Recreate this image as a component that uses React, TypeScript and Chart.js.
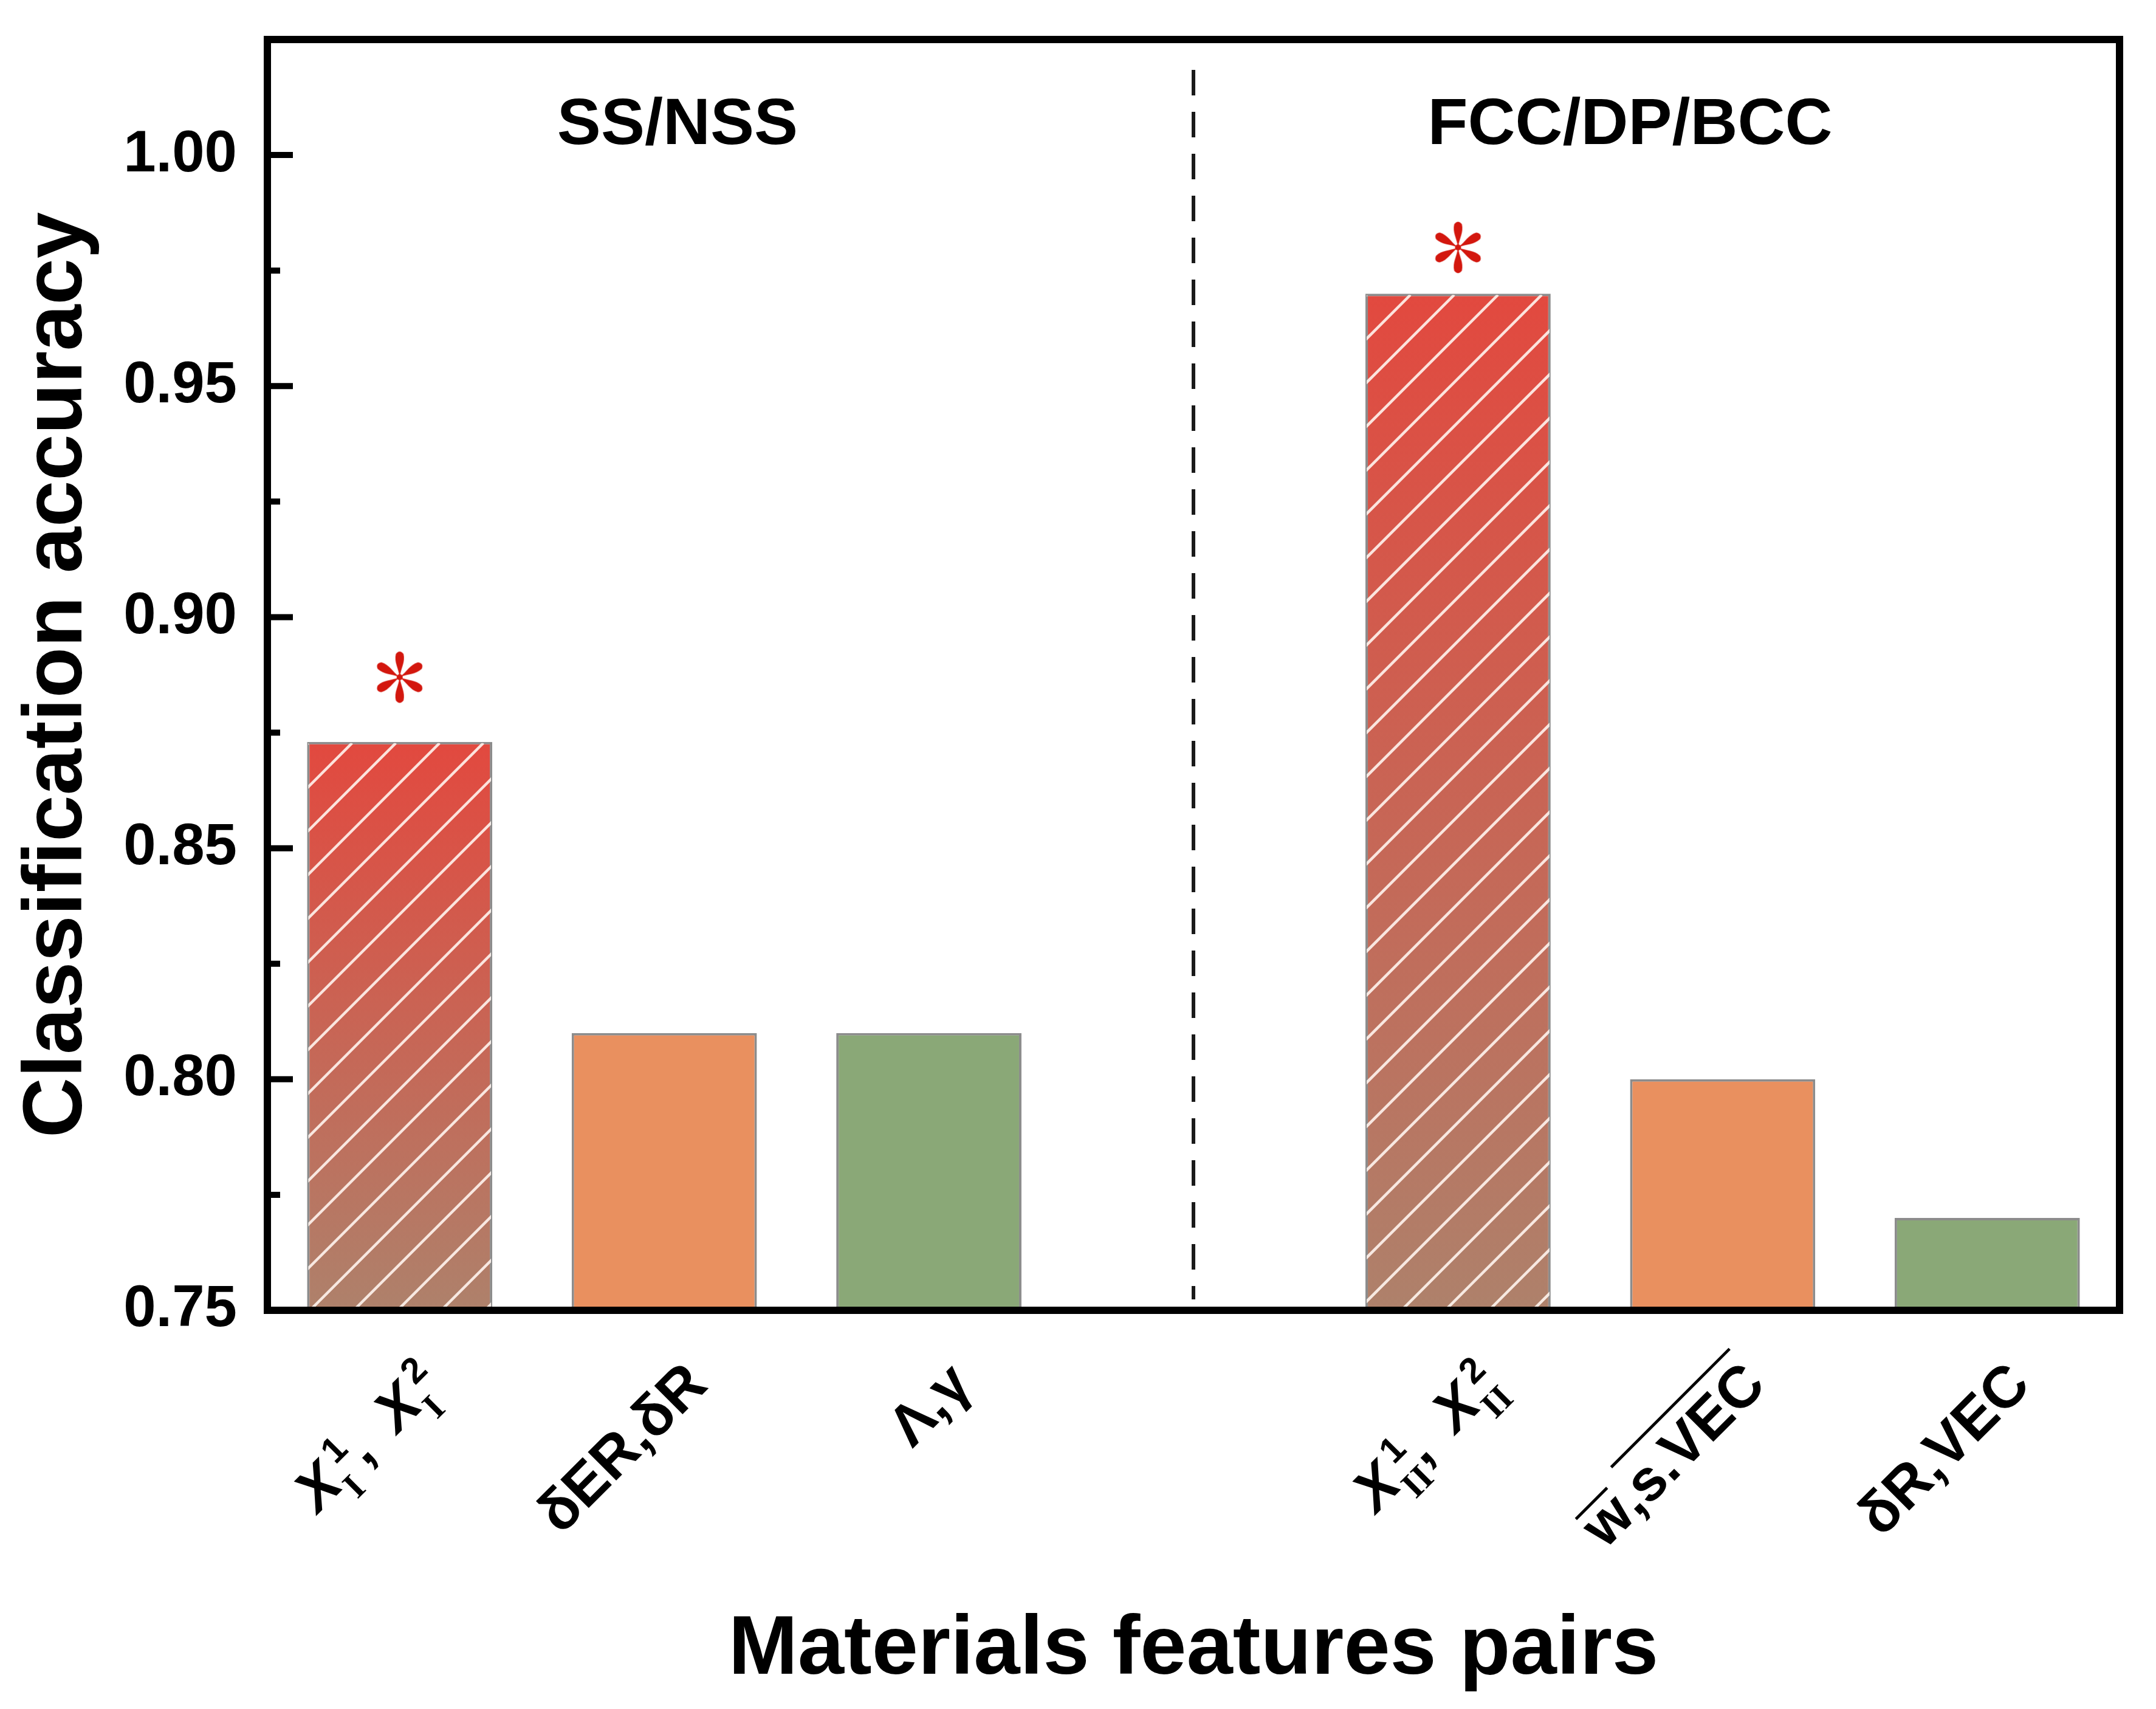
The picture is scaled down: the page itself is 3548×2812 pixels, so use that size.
import React, { useEffect, useRef } from 'react';
import { Chart, registerables } from 'chart.js';

Chart.register(...registerables);

// ---------- data ----------
const categories = ['X_I', 'dER_dR', 'L_g', '', 'X_II', 'w_sVEC', 'dR_VEC'];
const accuracy: (number | null)[] = [0.873, 0.81, 0.81, null, 0.97, 0.8, 0.77];
const starValues: (number | null)[] = [0.887, null, null, null, 0.98, null, null];
const barKinds = ['best', 'orange', 'green', 'none', 'best', 'orange', 'green'];
const yTickValues = [0.75, 0.8, 0.85, 0.9, 0.95, 1.0];
const yMinorValues = [0.775, 0.825, 0.875, 0.925, 0.975];
const groupLabels = ['SS/NSS', 'FCC/DP/BCC'];
const yTitle = 'Classification accuracy';
const xTitle = 'Materials features pairs';

type Tok = { t?: string; i?: boolean; o?: boolean; sup?: string; sub?: string };
const tickLabels: Tok[][] = [
  [{ t: 'X', i: true }, { sup: '1', sub: 'I' }, { t: ',\u2002' }, { t: 'X', i: true }, { sup: '2', sub: 'I' }],
  [{ t: 'δER,δR' }],
  [{ t: 'Λ,γ' }],
  [],
  [{ t: 'X', i: true }, { sup: '1', sub: 'II' }, { t: ',\u2002' }, { t: 'X', i: true }, { sup: '2', sub: 'II' }],
  [{ t: 'w', o: true }, { t: ',' }, { t: 's.VEC', o: true }],
  [{ t: 'δR,VEC' }],
];

// ---------- styles ----------
const SANS = '"Liberation Sans", Arial, Helvetica, sans-serif';
const SERIF = '"Liberation Serif", "Times New Roman", serif';
const W = 3548;
const H = 2812;

function makeStar(color: string) {
  const c = document.createElement('canvas');
  c.width = 100;
  c.height = 100;
  const g = c.getContext('2d')!;
  g.translate(50, 50);
  g.fillStyle = color;
  const R = 45;
  for (let k = 0; k < 6; k++) {
    const a = -Math.PI / 2 + (k * Math.PI) / 3;
    g.save();
    g.rotate(a);
    g.beginPath();
    g.moveTo(0, 0);
    g.bezierCurveTo(R * 0.35, -R * 0.05, R * 0.55, -R * 0.21, R * 0.85, -R * 0.14);
    g.quadraticCurveTo(R * 1.03, 0, R * 0.85, R * 0.14);
    g.bezierCurveTo(R * 0.55, R * 0.21, R * 0.35, R * 0.05, 0, 0);
    g.fill();
    g.restore();
  }
  g.beginPath();
  g.arc(0, 0, 5, 0, Math.PI * 2);
  g.fill();
  return c;
}

function drawRichLabel(ctx: CanvasRenderingContext2D, tokens: Tok[], ax: number, ay: number, size: number) {
  const items: { t: string; f: string; x: number; y: number; w: number; o: number }[] = [];
  let x = 0;
  const small = size * 0.62;
  const fBase = `bold ${size}px ${SANS}`;
  const fIt = `italic bold ${size}px ${SANS}`;
  const fSup = `bold ${small}px ${SANS}`;
  const fSub = `bold ${small}px ${SERIF}`;
  for (const tk of tokens) {
    if (tk.sup != null) {
      ctx.font = fSub;
      const sw = ctx.measureText(tk.sub || '').width;
      ctx.font = fSup;
      const pw = ctx.measureText(tk.sup).width;
      const sx = x - 0.01 * size;
      const px = x + 0.14 * size;
      items.push({ t: tk.sub || '', f: fSub, x: sx, y: 0.3 * size, w: sw, o: 0 });
      items.push({ t: tk.sup, f: fSup, x: px, y: -0.38 * size, w: pw, o: 0 });
      x = Math.max(sx + sw, px + pw);
    } else {
      const f = tk.i ? fIt : fBase;
      ctx.font = f;
      const t = tk.t || '';
      const w = ctx.measureText(t).width;
      const o = tk.o ? (/[A-Z]/.test(t) ? 0.93 : 0.73) : 0;
      items.push({ t, f, x, y: 0, w, o });
      x += w;
    }
  }
  const total = x;
  ctx.save();
  ctx.translate(ax, ay);
  ctx.rotate(-Math.PI / 4);
  ctx.translate(-total, 0.3465 * size);
  ctx.fillStyle = '#000';
  ctx.strokeStyle = '#000';
  ctx.textBaseline = 'alphabetic';
  ctx.textAlign = 'left';
  for (const it of items) {
    ctx.font = it.f;
    ctx.fillText(it.t, it.x, it.y);
    if (it.o) {
      ctx.lineWidth = 0.05 * size;
      ctx.beginPath();
      ctx.moveTo(it.x + 0.02 * size, -it.o * size);
      ctx.lineTo(it.x + it.w, -it.o * size);
      ctx.stroke();
    }
  }
  ctx.restore();
}

const decor = {
  id: 'decor',
  afterDatasetsDraw(chart: any) {
    const ctx: CanvasRenderingContext2D = chart.ctx;
    const area = chart.chartArea;
    const meta = chart.getDatasetMeta(0);
    meta.data.forEach((el: any, i: number) => {
      if (barKinds[i] !== 'best' || accuracy[i] == null) return;
      const { x, y, base, width } = el.getProps(['x', 'y', 'base', 'width'], true);
      const l = x - width / 2 + 2;
      const r = x + width / 2 - 2;
      const t = y + 2;
      const b = Math.min(base, area.bottom);
      ctx.save();
      ctx.beginPath();
      ctx.rect(l, t, r - l, b - t);
      ctx.clip();
      ctx.strokeStyle = 'rgba(255,244,238,0.9)';
      ctx.lineWidth = 4.5;
      const step = 72;
      const hgt = b - t;
      ctx.beginPath();
      for (let k = l - hgt; k < r + step; k += step) {
        ctx.moveTo(k, b);
        ctx.lineTo(k + hgt, t);
      }
      ctx.stroke();
      ctx.restore();
    });
  },
  afterDraw(chart: any) {
    const ctx: CanvasRenderingContext2D = chart.ctx;
    const area = chart.chartArea;
    const xs = chart.scales.x;
    const ys = chart.scales.y;
    ctx.save();

    // dashed separator
    const dx = xs.getPixelForValue(3);
    ctx.strokeStyle = '#1a1a1a';
    ctx.lineWidth = 6;
    ctx.setLineDash([42, 27]);
    ctx.beginPath();
    ctx.moveTo(dx, area.top + 50);
    ctx.lineTo(dx, area.bottom - 18);
    ctx.stroke();
    ctx.setLineDash([]);

    // group labels
    ctx.fillStyle = '#000';
    ctx.font = `bold 108px ${SANS}`;
    ctx.textAlign = 'center';
    ctx.textBaseline = 'middle';
    ctx.fillText(groupLabels[0], xs.getPixelForValue(1.05), area.top + 142);
    ctx.fillText(groupLabels[1], xs.getPixelForValue(4.65), area.top + 142);

    // frame
    ctx.strokeStyle = '#000';
    ctx.lineWidth = 12;
    ctx.lineJoin = 'miter';
    ctx.strokeRect(area.left, area.top, area.right - area.left, area.bottom - area.top);

    // inward ticks on left axis
    ctx.lineWidth = 10;
    ctx.lineCap = 'butt';
    ctx.beginPath();
    for (const v of yTickValues) {
      const py = ys.getPixelForValue(v);
      ctx.moveTo(area.left, py);
      ctx.lineTo(area.left + 42, py);
    }
    for (const v of yMinorValues) {
      const py = ys.getPixelForValue(v);
      ctx.moveTo(area.left, py);
      ctx.lineTo(area.left + 21, py);
    }
    ctx.stroke();

    // category labels
    tickLabels.forEach((toks, i) => {
      if (!toks.length) return;
      const bx = xs.getPixelForValue(i);
      drawRichLabel(ctx, toks, bx + 51, area.bottom + 103, 96);
    });
    ctx.restore();
  },
};

export default function App() {
  const ref = useRef<HTMLCanvasElement>(null);
  useEffect(() => {
    document.body.style.margin = '0';
    const canvas = ref.current!;
    const star = makeStar('#d3170e');
    const fillFor = (c: any) => {
      const kind = barKinds[c.dataIndex];
      if (kind === 'best') {
        const ch = c.chart;
        const area = ch.chartArea;
        const v = accuracy[c.dataIndex];
        if (!area || v == null || !ch.scales.y) return '#e2493f';
        const yTop = ch.scales.y.getPixelForValue(v);
        const g = ch.ctx.createLinearGradient(0, yTop, 0, area.bottom);
        g.addColorStop(0, '#e2493f');
        g.addColorStop(1, '#ae816b');
        return g;
      }
      return kind === 'orange' ? '#e9905f' : '#8aa877';
    };
    const chart = new Chart(canvas, {
      type: 'bar',
      data: {
        labels: categories,
        datasets: [
          {
            type: 'bar',
            data: accuracy as any,
            base: 0.75,
            backgroundColor: fillFor as any,
            borderColor: '#8c8c8c',
            borderWidth: 4,
            borderSkipped: false,
            barPercentage: 0.7,
            categoryPercentage: 1,
            order: 2,
          } as any,
          {
            type: 'line',
            data: starValues as any,
            showLine: false,
            pointStyle: star as any,
            pointRadius: 40,
            order: 1,
          } as any,
        ],
      },
      options: {
        responsive: false,
        animation: false,
        devicePixelRatio: 1,
        events: [],
        layout: { padding: { top: 65, right: 60, bottom: 0, left: 0 } },
        plugins: { legend: { display: false }, tooltip: { enabled: false } },
        scales: {
          x: {
            offset: true,
            grid: { display: false, drawTicks: false },
            border: { display: false },
            ticks: { display: false },
            title: {
              display: true,
              text: xTitle,
              color: '#000',
              font: { family: SANS, size: 137, weight: 'bold', lineHeight: 1 },
              padding: { top: 0, bottom: 27.5 },
            },
            afterFit: (scale: any) => {
              scale.height = H - 2156;
              scale.paddingLeft = 0;
              scale.paddingRight = 0;
            },
          },
          y: {
            min: 0.75,
            max: 1.025,
            grid: { display: false, drawTicks: false },
            border: { display: false },
            afterBuildTicks: (scale: any) => {
              scale.ticks = yTickValues.map((v) => ({ value: v }));
            },
            ticks: {
              padding: 50,
              color: '#000',
              font: { family: SANS, size: 96, weight: 'bold' },
              callback: (v: any) => Number(v).toFixed(2),
            },
            title: {
              display: true,
              text: yTitle,
              color: '#000',
              font: { family: SANS, size: 137, weight: 'bold', lineHeight: 1 },
              padding: { top: 27.5, bottom: 0 },
            },
            afterFit: (scale: any) => {
              scale.width = 440;
              scale.paddingTop = 0;
              scale.paddingBottom = 0;
            },
          },
        },
      } as any,
      plugins: [decor],
    });
    return () => chart.destroy();
  }, []);
  return <canvas ref={ref} width={W} height={H} style={{ display: 'block' }} />;
}
